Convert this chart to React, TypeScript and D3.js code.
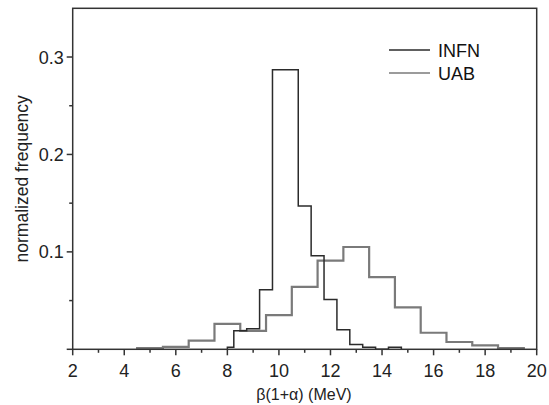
import React from "react";
import * as d3 from "d3";

const infnEdges = [8.0, 8.25, 8.75, 9.25, 9.75, 10.75, 11.25, 11.75, 12.25, 12.75, 13.25, 13.75, 14.25, 14.75];
const infnValues = [0.002, 0.019, 0.021, 0.061, 0.287, 0.147, 0.096, 0.051, 0.020, 0.005, 0.002, 0, 0.002];

const uabEdges = [4.5, 5.5, 6.5, 7.5, 8.5, 9.5, 10.5, 11.5, 12.5, 13.5, 14.5, 15.5, 16.5, 17.5, 18.5, 19.5];
const uabValues = [0.0012, 0.0025, 0.009, 0.026, 0.019, 0.035, 0.064, 0.091, 0.105, 0.074, 0.043, 0.017, 0.0075, 0.004, 0.0013];

const xMajor = [2, 4, 6, 8, 10, 12, 14, 16, 18, 20];
const xMinor = [3, 5, 7, 9, 11, 13, 15, 17, 19];
const yMajor = [0, 0.1, 0.2, 0.3];
const yMinor = [0.05, 0.15, 0.25];

const seriesNames = ["INFN", "UAB"];

const W = 549, H = 405;
const L = 72.7, R = 536.7, T = 8.3, B = 349.3;
const FONT = "'Liberation Sans', Arial, sans-serif";
const AXIS = "#333";
const C_INFN = "#2b2b2b";
const C_UAB = "#7a7a7a";

export default function App() {
  const x = d3.scaleLinear().domain([2, 20]).range([L, R]);
  const y = d3.scaleLinear().domain([0, 0.35]).range([B, T]);

  const stepPts = (edges: number[], vals: number[]) => {
    const pts: [number, number][] = [[edges[0], 0]];
    vals.forEach((v, i) => {
      pts.push([edges[i], v]);
      pts.push([edges[i + 1], v]);
    });
    pts.push([edges[edges.length - 1], 0]);
    return pts;
  };
  const line = d3.line<[number, number]>().x((d) => x(d[0])).y((d) => y(d[1]));

  return (
    <svg width={W} height={H} style={{ position: "absolute", left: 0, top: 0, background: "#fff" }}>
      <rect x={0} y={0} width={W} height={H} fill="#fff" />
      {/* series */}
      <path d={line(stepPts(uabEdges, uabValues)) || ""} fill="none" stroke={C_UAB} strokeWidth={2.2} />
      <path d={line(stepPts(infnEdges, infnValues)) || ""} fill="none" stroke={C_INFN} strokeWidth={1.5} />

      {/* frame */}
      <rect x={L} y={T} width={R - L} height={B - T} fill="none" stroke={AXIS} strokeWidth={1.5} />

      {/* x ticks */}
      {xMajor.map((t) => (
        <g key={"xm" + t}>
          <line x1={x(t)} x2={x(t)} y1={B} y2={B + 6} stroke={AXIS} strokeWidth={1.5} />
          <text x={x(t)} y={B + 28} textAnchor="middle" fontFamily={FONT} fontSize={18} fill="#222">{t}</text>
        </g>
      ))}
      {xMinor.map((t) => (
        <line key={"xn" + t} x1={x(t)} x2={x(t)} y1={B} y2={B + 3.5} stroke={AXIS} strokeWidth={1.5} />
      ))}

      {/* y ticks */}
      {yMajor.map((t) => (
        <g key={"ym" + t}>
          <line x1={L - 6} x2={L} y1={y(t)} y2={y(t)} stroke={AXIS} strokeWidth={1.5} />
          {t > 0 && (
            <text x={L - 9} y={y(t) + 6.5} textAnchor="end" fontFamily={FONT} fontSize={18} fill="#222">{t.toFixed(1)}</text>
          )}
        </g>
      ))}
      {yMinor.map((t) => (
        <line key={"yn" + t} x1={L - 3.5} x2={L} y1={y(t)} y2={y(t)} stroke={AXIS} strokeWidth={1.5} />
      ))}

      {/* axis titles */}
      <text x={304} y={400} textAnchor="middle" fontFamily={FONT} fontSize={16} fill="#222">β(1+α) (MeV)</text>
      <text transform={`translate(28,${(T + B) / 2}) rotate(-90)`} textAnchor="middle" fontFamily={FONT} fontSize={17.5} fill="#222">normalized frequency</text>

      {/* legend */}
      <line x1={389} x2={430} y1={50} y2={50} stroke={C_INFN} strokeWidth={1.3} />
      <text x={438} y={57} fontFamily={FONT} fontSize={18} fill="#111">{seriesNames[0]}</text>
      <line x1={389} x2={430} y1={73} y2={73} stroke={C_UAB} strokeWidth={1.5} />
      <text x={438} y={80} fontFamily={FONT} fontSize={18} fill="#111">{seriesNames[1]}</text>
    </svg>
  );
}
